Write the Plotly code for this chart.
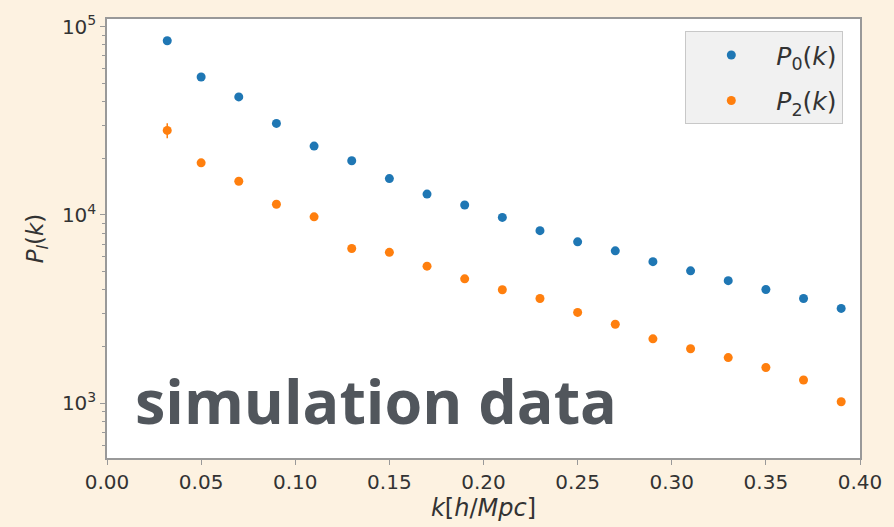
import plotly.graph_objects as go

k = [0.032, 0.05, 0.07, 0.09, 0.11, 0.13, 0.15, 0.17, 0.19, 0.21,
     0.23, 0.25, 0.27, 0.29, 0.31, 0.33, 0.35, 0.37, 0.39]
P0 = [84000, 54000, 42300, 30600, 23200, 19400, 15600, 12900, 11300, 9700,
      8250, 7200, 6450, 5650, 5050, 4480, 4020, 3600, 3190]
P0_err = [1500, 700, 500, 350, 250, 200, 150, 120, 100, 80,
          70, 60, 50, 45, 40, 35, 30, 28, 25]
P2 = [28100, 18900, 15100, 11400, 9770, 6640, 6330, 5350, 4580, 4010,
      3600, 3040, 2630, 2200, 1950, 1750, 1550, 1330, 1020]
P2_err = [2600, 900, 600, 450, 350, 250, 200, 160, 130, 110,
          100, 80, 70, 60, 50, 45, 40, 35, 30]

ytick_vals = [1e3, 1e4, 1e5]
ytick_text = ["10<sup>3</sup>", "10<sup>4</sup>", "10<sup>5</sup>"]
yminor_vals = [600, 700, 800, 900,
               2000, 3000, 4000, 5000, 6000, 7000, 8000, 9000,
               20000, 30000, 40000, 50000, 60000, 70000, 80000, 90000]
xtick_vals = [0.0, 0.05, 0.10, 0.15, 0.20, 0.25, 0.30, 0.35, 0.40]
xtick_text = ["0.00", "0.05", "0.10", "0.15", "0.20", "0.25", "0.30", "0.35", "0.40"]

fig = go.Figure()
fig.add_trace(go.Scatter(
    x=k, y=P0, mode="markers", name="<i>P</i><sub>0</sub>(<i>k</i>)",
    legendgroup="a",
    marker=dict(color="#1f77b4", size=9),
    error_y=dict(type="data", array=P0_err, color="#1f77b4", thickness=1.5, width=0),
))
fig.add_trace(go.Scatter(
    x=k, y=P2, mode="markers", name="<i>P</i><sub>2</sub>(<i>k</i>)",
    legendgroup="b",
    marker=dict(color="#ff7f0e", size=9),
    error_y=dict(type="data", array=P2_err, color="#ff7f0e", thickness=1.5, width=0),
))

fig.add_annotation(
    text="<b>simulation data</b>", xref="paper", yref="paper",
    x=0.035, y=0.13, xanchor="left", yanchor="middle", showarrow=False,
    font=dict(family="Open Sans", size=61, color="#51565c"),
)

fig.update_layout(
    width=894, height=527,
    margin=dict(l=107, r=27, t=17, b=66),
    paper_bgcolor="#fdf2e1", plot_bgcolor="#ffffff",
    font=dict(family="DejaVu Sans", size=20, color="#333333"),
    showlegend=True,
    legend=dict(
        x=0.768, y=0.972, xanchor="left", yanchor="top",
        bgcolor="rgba(240,240,240,0.95)", bordercolor="#c8c8c8", borderwidth=1,
        font=dict(family="DejaVu Sans", size=25, color="#333333"),
        itemwidth=80, tracegroupgap=10,
    ),
    xaxis=dict(
        range=[0, 0.40], tickvals=xtick_vals, ticktext=xtick_text,
        showgrid=False, zeroline=False, showline=True, linecolor="#999999", linewidth=1.5,
        mirror=True, ticks="outside", ticklen=5, tickcolor="#999999",
        title=dict(text="<i>k</i>[<i>h</i>/<i>Mpc</i>]", standoff=4,
                   font=dict(family="DejaVu Sans", size=24, color="#333333")),
    ),
    yaxis=dict(
        type="log", range=[2.71, 5.04], tickvals=ytick_vals, ticktext=ytick_text,
        showgrid=False, zeroline=False, showline=True, linecolor="#999999", linewidth=1.5,
        mirror=True, ticks="outside", ticklen=5, tickcolor="#999999",
        minor=dict(tickvals=yminor_vals, ticks="outside", ticklen=3,
                   tickcolor="#999999", showgrid=False),
        title=dict(text="<i>P</i><sub><i>l</i></sub>(<i>k</i>)", standoff=12,
                   font=dict(family="DejaVu Sans", size=23, color="#333333")),
    ),
)

fig.write_html("out.html")
